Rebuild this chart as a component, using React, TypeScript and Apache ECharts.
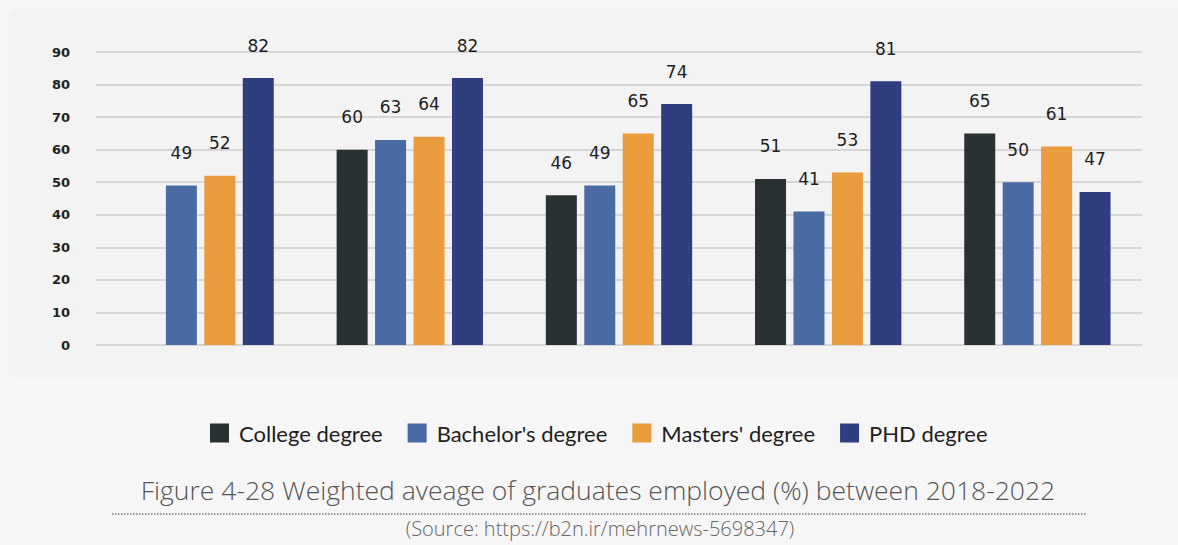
import React, { useEffect, useRef } from "react";
import * as echarts from "echarts";

const categories = ["2018", "2019", "2020", "2021", "2022"];
const seriesNames = ["College degree", "Bachelor's degree", "Masters' degree", "PHD degree"];
const college: (number | null)[] = [null, 60, 46, 51, 65];
const bachelor = [49, 63, 49, 41, 50];
const masters = [52, 64, 65, 53, 61];
const phd = [82, 82, 74, 81, 47];
const colors = ["#2a3132", "#4a6aa3", "#e99b3d", "#2f3e7e"];
const yTicks = { min: 0, max: 90, interval: 10 };
const caption = "Figure 4-28 Weighted aveage of graduates employed (%) between 2018-2022";
const source = "(Source: https://b2n.ir/mehrnews-5698347)";

export default function App() {
  const ref = useRef<HTMLDivElement>(null);
  useEffect(() => {
    document.body.style.margin = "0";
    const chart = echarts.init(ref.current!, null, { renderer: "svg" });
    const data = [college, bachelor, masters, phd];
    chart.setOption({
      animation: false,
      backgroundColor: "#f6f6f6",
      textStyle: { fontFamily: "'DejaVu Sans', sans-serif" },
      grid: { left: 96, right: 36, top: 52, bottom: 200 },
      legend: {
        top: 417,
        left: 205,
        itemWidth: 19,
        itemHeight: 19,
        itemGap: 25,
        icon: "rect",
        textStyle: {
          fontSize: 22,
          color: "#1e1e1e",
          fontFamily: "Lato, sans-serif",
          padding: [0, 0, 0, 5],
        },
        data: seriesNames,
      },
      xAxis: {
        type: "category",
        data: categories,
        axisLine: { show: false },
        axisTick: { show: false },
        axisLabel: { show: false },
      },
      yAxis: {
        type: "value",
        min: yTicks.min,
        max: yTicks.max,
        interval: yTicks.interval,
        axisLabel: {
          fontSize: 13,
          color: "#222",
          fontWeight: "bold",
          margin: 26,
          fontFamily: "'DejaVu Sans', sans-serif",
        },
        splitLine: { lineStyle: { color: "#d6d6d6", width: 2 } },
      },
      series: seriesNames.map((name, i) => ({
        name,
        type: "bar",
        data: data[i],
        barWidth: 31,
        barGap: "24%",
        itemStyle: { color: colors[i] },
        label: {
          show: true,
          position: "top",
          distance: 24,
          fontSize: 17,
          color: "#1e1e1e",
          fontFamily: "'DejaVu Sans', sans-serif",
        },
      })),
      graphic: [
        {
          type: "rect",
          z: -10,
          silent: true,
          shape: { x: 8, y: 8, width: 1180, height: 370, r: 10 },
          style: { fill: "#f3f3f3" },
        },
        {
          type: "text",
          x: 598,
          y: 476,
          style: {
            text: caption,
            fontSize: 26.5,
            fontWeight: 300,
            fontFamily: "'Open Sans', sans-serif",
            fill: "#555",
            textAlign: "center",
            textVerticalAlign: "top",
          },
        },
        {
          type: "line",
          shape: { x1: 112, y1: 514, x2: 1086, y2: 514 },
          style: { stroke: "#777", lineWidth: 1.5, lineDash: [1.5, 1.5] },
        },
        {
          type: "text",
          x: 600,
          y: 518,
          style: {
            text: source,
            fontSize: 20,
            fontWeight: 300,
            fontFamily: "'Open Sans', sans-serif",
            fill: "#666",
            textAlign: "center",
            textVerticalAlign: "top",
          },
        },
      ],
    });
    return () => chart.dispose();
  }, []);
  return (
    <div
      ref={ref}
      style={{ position: "absolute", left: 0, top: 0, width: 1178, height: 545 }}
    />
  );
}
